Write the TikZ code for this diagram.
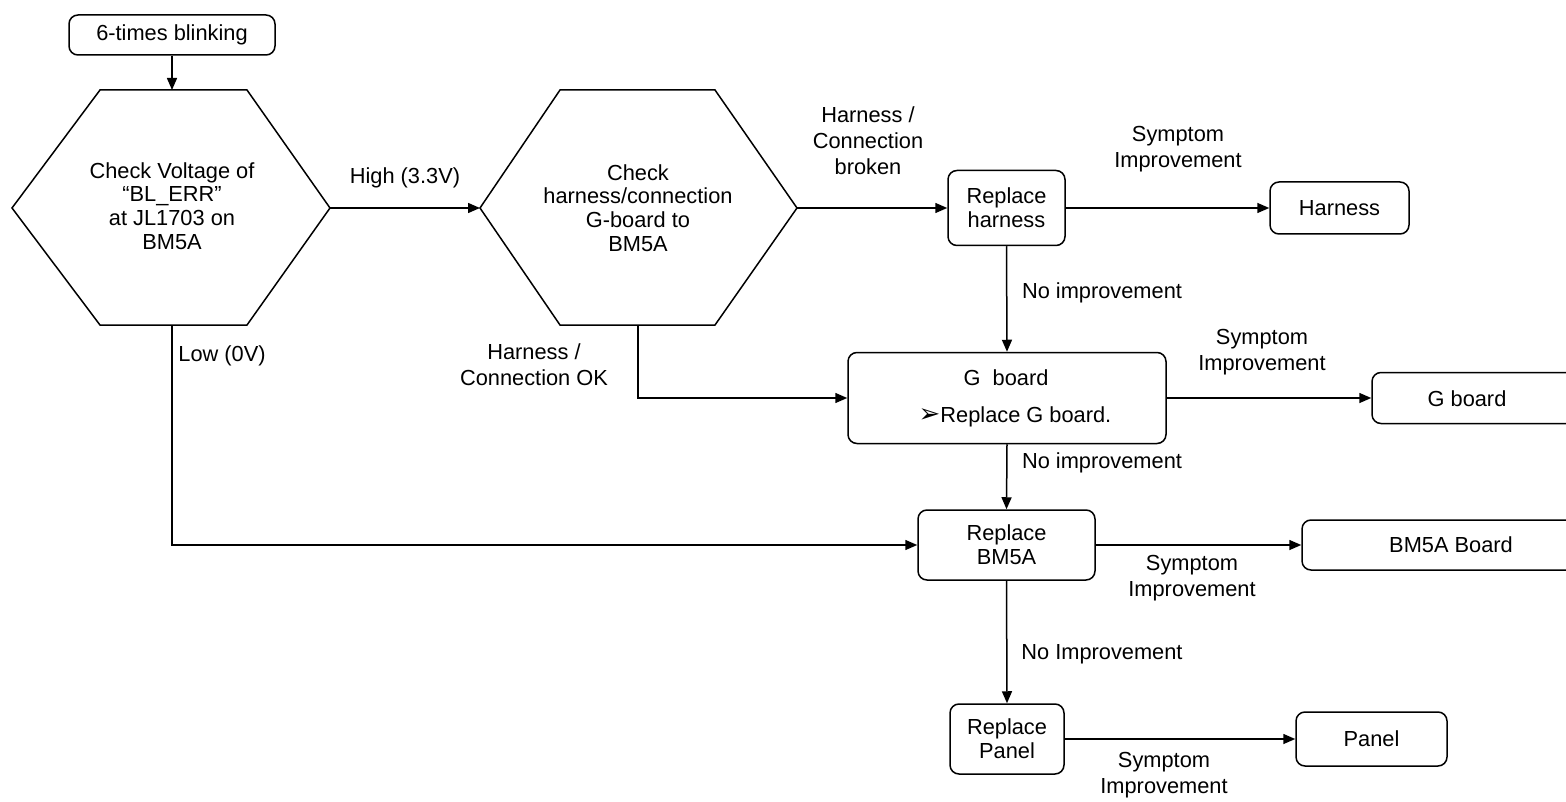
\documentclass[tikz,border=0pt]{standalone}
\usepackage{fontspec}
\setmainfont{Liberation Sans}
\newfontfamily\dejavu{DejaVu Sans}
\usetikzlibrary{arrows.meta}
\begin{document}
\begin{tikzpicture}[x=1pt,y=-1pt,
  font=\fontsize{21.8}{23.8}\selectfont,
  line width=1.5pt,
  box/.style={draw,rounded corners=9pt,align=center,inner sep=0pt},
  txt/.style={align=center,inner sep=0pt},
  arr/.style={-{Triangle[length=12pt,width=10pt]}},
  lab/.style={align=center,inner sep=0pt,font=\fontsize{21.8}{26}\selectfont}]
\useasboundingbox (0,0) rectangle (1566,802);
\clip (0,0) rectangle (1566,802);

% start box
\node[box,minimum width=206pt,minimum height=40pt] (start) at (172,35) {6-times blinking};

% hexagon 1
\coordinate (h1L) at (12,208);
\coordinate (h1R) at (330,208);
\coordinate (h1T) at (172,90);
\coordinate (h1B) at (172,325);
\draw (h1L) -- (100,90) -- (247,90) -- (h1R) -- (247,325) -- (100,325) -- cycle;
\node[txt] (h1) at (172,206) {Check Voltage of\\“BL\_ERR”\\at JL1703 on\\BM5A};

% hexagon 2
\coordinate (h2L) at (480,208);
\coordinate (h2R) at (797,208);
\coordinate (h2B) at (638,325);
\draw (h2L) -- (560,90) -- (715,90) -- (h2R) -- (715,325) -- (560,325) -- cycle;
\node[txt] (h2) at (638,208) {Check\\harness/connection\\G-board to\\BM5A};

% boxes
\node[box,minimum width=117pt,minimum height=75pt] (rh) at (1006.5,208) {Replace\\harness};
\node[box,minimum width=139pt,minimum height=52pt] (harn) at (1339.5,208) {Harness};
\node[box,minimum width=318pt,minimum height=91pt] (gb) at (1007,398) {};
\node[txt] (gbt) at (1006,378) {G\ \ board};
\node[txt] (gbr) at (1015,417) {{\dejavu\fontsize{26}{26}\selectfont ➢}Replace G board.};
\node[box,minimum width=210pt,minimum height=51pt] (gres) at (1477,398) {};
\node[txt] (gresT) at (1467,398.5) {G board};
\node[box,minimum width=280pt,minimum height=50pt] (bres) at (1442,545) {};
\node[txt] (bresT) at (1451,545) {BM5A Board};
\node[box,minimum width=177pt,minimum height=70pt] (rb) at (1006.5,545) {Replace\\BM5A};
\node[box,minimum width=114pt,minimum height=70pt] (rp) at (1007,739) {Replace\\Panel};
\node[box,minimum width=151pt,minimum height=54pt] (panel) at (1371.5,739) {Panel};

% connectors
\draw[arr] (start.south) -- (h1T);
\draw[arr] (h1R) -- (h2L);
\draw[arr] (h2R) -- (rh.west);
\draw[arr] (rh.east) -- (harn.west);
\draw[arr] (rh.south) -- (gb.north);
\draw[arr] (h2B) |- (gb.west);
\draw[arr] (gb.east) -- (gres.west);
\draw[arr] (gb.south) -- (rb.north);
\draw[arr] (h1B) |- (rb.west);
\draw[arr] (rb.east) -- (bres.west);
\draw[arr] (rb.south) -- (rp.north);
\draw[arr] (rp.east) -- (panel.west);

% labels
\node[lab] (l1) at (405,178) {High (3.3V)};
\node[lab] (l2) at (868,141) {Harness /\\Connection\\broken};
\node[lab] (l3) at (1178,149) {Symptom\\Improvement};
\node[lab] (l4) at (1102,293) {No improvement};
\node[lab] (l5) at (534,365) {Harness /\\Connection OK};
\node[lab] (l6) at (1262,352) {Symptom\\Improvement};
\node[lab] (l7) at (222,356) {Low (0V)};
\node[lab] (l8) at (1102,463) {No improvement};
\node[lab] (l9) at (1192,578) {Symptom\\Improvement};
\node[lab] (l10) at (1102,654) {No Improvement};
\node[lab] (l11) at (1164,775) {Symptom\\Improvement};
\end{tikzpicture}
\end{document}
